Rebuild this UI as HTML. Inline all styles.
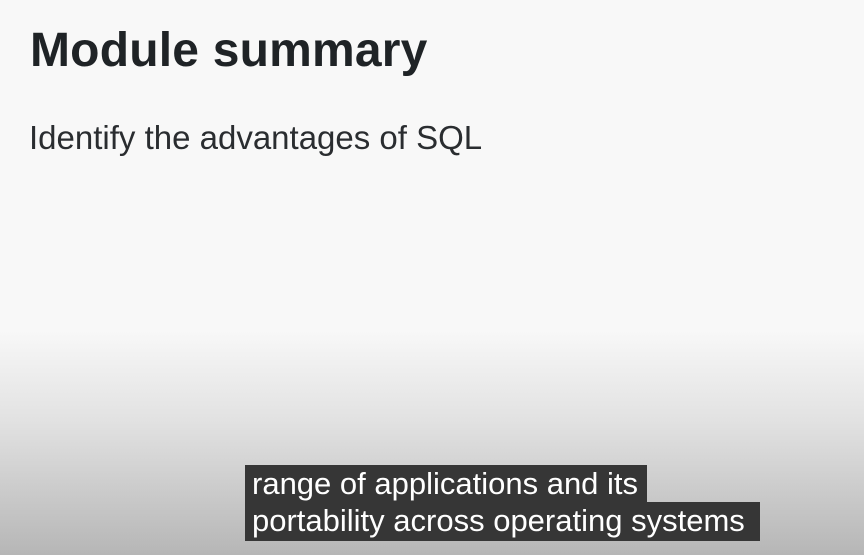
<!DOCTYPE html>
<html><head><style>
html,body{margin:0;padding:0}
body{width:864px;height:555px;overflow:hidden;position:relative;font-family:"Liberation Sans",sans-serif;
background:linear-gradient(to bottom,#f8f8f8 0px,#f8f8f8 330px,#e2e2e2 420px,#c8c8c8 500px,#b6b6b6 555px);}
.t{position:absolute;left:30px;top:23px;font-size:48px;font-weight:bold;color:#1f2326;letter-spacing:0.2px;white-space:nowrap}
.s{position:absolute;left:29px;top:119px;font-size:33px;color:#2a2d30;white-space:nowrap}
.c{position:absolute;left:245px;background:#363636;color:#fff;font-size:31px;line-height:37px;padding:0 0 0 7px;white-space:nowrap;box-sizing:border-box}
</style></head><body>
<div class="t">Module summary</div>
<div class="s">Identify the advantages of SQL</div>
<div class="c" style="top:465px;width:402px">range of applications and its</div>
<div class="c" style="top:502px;height:39px;width:515px">portability across operating systems</div>
</body></html>
